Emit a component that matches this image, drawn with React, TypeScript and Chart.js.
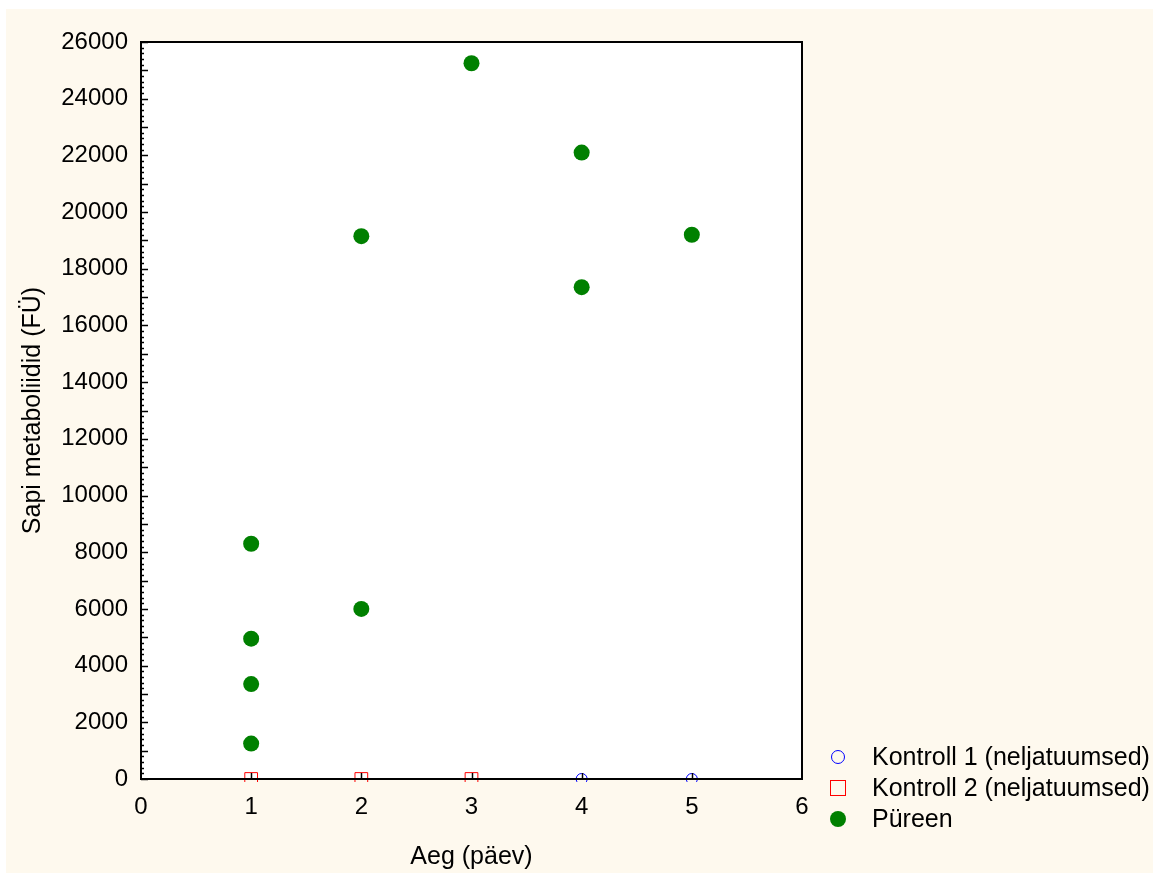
import React, { useEffect, useRef } from "react";
import { Chart, registerables } from "chart.js";

Chart.register(...registerables);

// ---- Data ----
const kontroll1X = [4, 5];
const kontroll1Y = [0, 0];
const kontroll2X = [1, 2, 3];
const kontroll2Y = [0, 0, 0];
const pureenX = [1, 1, 1, 1, 2, 2, 3, 4, 4, 5];
const pureenY = [8300, 4950, 3350, 1250, 19150, 6000, 25250, 22100, 17350, 19200];

const seriesLabels = [
  "Kontroll 1 (neljatuumsed)",
  "Kontroll 2 (neljatuumsed)",
  "Püreen",
];
const xTitle = "Aeg (päev)";
const yTitle = "Sapi metaboliidid (FÜ)";
const xMin = 0, xMax = 6, xStep = 1;
const yMin = 0, yMax = 26000, yStep = 2000, yMinorStep = 200, yMidStep = 1000;

const FONT = "'Liberation Sans', Arial, Helvetica, sans-serif";
const CREAM = "#fef9ee";
const BLUE = "#0000ff";
const RED = "#ff0000";
const GREEN = "#008000";

const toPts = (xs: number[], ys: number[]) => xs.map((x, i) => ({ x, y: ys[i] }));

const framePlugin = {
  id: "frame",
  beforeDraw(chart: any) {
    const { ctx, chartArea: a, width, height } = chart;
    ctx.save();
    ctx.fillStyle = CREAM;
    ctx.fillRect(0, 0, width, height);
    ctx.fillStyle = "#ffffff";
    ctx.fillRect(a.left, a.top, a.right - a.left, a.bottom - a.top);
    ctx.restore();
  },
  afterDraw(chart: any) {
    const { ctx, chartArea: a } = chart;
    const ys = chart.scales.y;
    const xs = chart.scales.x;
    ctx.save();
    ctx.strokeStyle = "#000000";
    // y minor/major ticks (inward)
    for (let v = yMin; v <= yMax; v += yMinorStep) {
      const py = Math.round(ys.getPixelForValue(v)) + 0.5;
      const len = v % yMidStep === 0 ? 7 : 3;
      ctx.lineWidth = 1.5;
      ctx.beginPath();
      ctx.moveTo(a.left, py);
      ctx.lineTo(a.left + len, py);
      ctx.stroke();
    }
    // x ticks (inward)
    for (let v = xMin + xStep; v < xMax; v += xStep) {
      const px = Math.round(xs.getPixelForValue(v)) + 0.5;
      ctx.lineWidth = 1.5;
      ctx.beginPath();
      ctx.moveTo(px, a.bottom);
      ctx.lineTo(px, a.bottom - 6);
      ctx.stroke();
    }
    // frame
    ctx.lineWidth = 2;
    ctx.strokeRect(a.left, a.top, a.right - a.left, a.bottom - a.top);

    // legend
    const lx = a.right + 36;
    const tx = a.right + 70;
    const rows = [748, 779, 810];
    ctx.font = `25px ${FONT}`;
    ctx.textBaseline = "middle";
    ctx.textAlign = "left";
    chart.data.datasets.forEach((ds: any, i: number) => {
      const y = rows[i];
      ctx.lineWidth = 1;
      if (i === 0) {
        ctx.strokeStyle = BLUE;
        ctx.beginPath();
        ctx.arc(lx, y, 6.5, 0, Math.PI * 2);
        ctx.stroke();
      } else if (i === 1) {
        ctx.strokeStyle = RED;
        ctx.strokeRect(lx - 7.5, y - 7.5, 15, 15);
      } else {
        ctx.fillStyle = GREEN;
        ctx.beginPath();
        ctx.arc(lx, y, 8, 0, Math.PI * 2);
        ctx.fill();
      }
      ctx.fillStyle = "#000000";
      ctx.fillText(ds.label, tx, y + 1);
    });
    ctx.restore();
  },
};

export default function App() {
  const ref = useRef<HTMLCanvasElement | null>(null);
  useEffect(() => {
    if (!ref.current) return;
    const clip = { left: false, right: false, top: false, bottom: 3 } as any;
    const chart = new Chart(ref.current, {
      type: "scatter",
      data: {
        datasets: [
          {
            label: seriesLabels[0],
            data: toPts(kontroll1X, kontroll1Y),
            pointStyle: "circle",
            pointRadius: 5.5,
            pointBorderWidth: 1,
            borderColor: BLUE,
            backgroundColor: "rgba(0,0,0,0)",
            clip,
          },
          {
            label: seriesLabels[1],
            data: toPts(kontroll2X, kontroll2Y),
            pointStyle: "rect",
            pointRadius: 9,
            pointBorderWidth: 1,
            borderColor: RED,
            backgroundColor: "rgba(0,0,0,0)",
            clip,
          },
          {
            label: seriesLabels[2],
            data: toPts(pureenX, pureenY),
            pointStyle: "circle",
            pointRadius: 8,
            pointBorderWidth: 0,
            borderColor: GREEN,
            backgroundColor: GREEN,
            clip,
          },
        ],
      },
      options: {
        responsive: false,
        animation: false,
        devicePixelRatio: 1,
        layout: { padding: { left: 0, top: 33, right: 351, bottom: 0 } },
        plugins: { legend: { display: false }, tooltip: { enabled: false } },
        scales: {
          x: {
            type: "linear",
            min: xMin,
            max: xMax,
            border: { display: false },
            grid: { display: false, drawTicks: false },
            ticks: {
              stepSize: xStep,
              padding: 14,
              color: "#000",
              font: { family: FONT, size: 24 },
              maxRotation: 0,
              callback: (v: any) => String(v),
            },
            title: {
              display: true,
              text: xTitle,
              color: "#000",
              font: { family: FONT, size: 25 },
              padding: { top: 0, bottom: 1 },
            },
            afterFit: (s: any) => {
              s.height = 94;
            },
          },
          y: {
            type: "linear",
            min: yMin,
            max: yMax,
            border: { display: false },
            grid: { display: false, drawTicks: false },
            ticks: {
              stepSize: yStep,
              padding: 13,
              color: "#000",
              font: { family: FONT, size: 24 },
              callback: (v: any) => String(v),
            },
            title: {
              display: true,
              text: yTitle,
              color: "#000",
              font: { family: FONT, size: 25 },
              padding: { top: 12, bottom: 0 },
            },
            afterFit: (s: any) => {
              s.width = 135;
            },
          },
        },
      },
      plugins: [framePlugin],
    } as any);
    return () => chart.destroy();
  }, []);
  return (
    <div style={{ position: "absolute", left: 6, top: 9, width: 1147, height: 864 }}>
      <canvas ref={ref} width={1147} height={864} style={{ display: "block" }} />
    </div>
  );
}
